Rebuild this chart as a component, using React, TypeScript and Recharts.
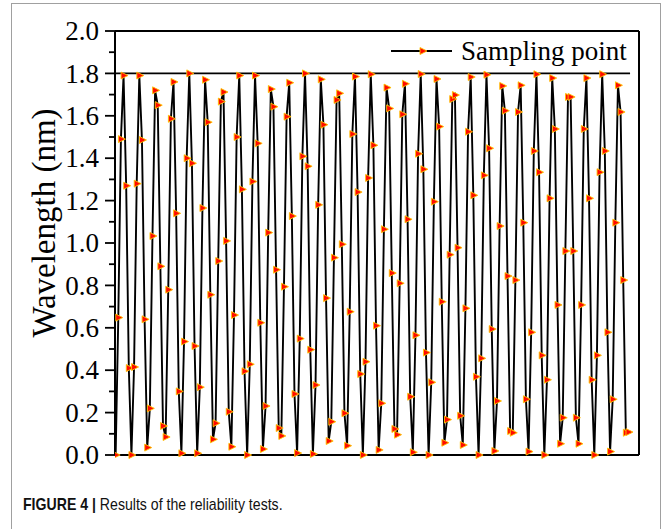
import React from 'react';
import { LineChart, Line, XAxis, YAxis, ReferenceLine, Customized } from 'recharts';

// Wavelength (nm) of each sampling point, in order
const wavelength: number[] = [
  0.0, 0.648, 1.49, 1.79, 1.27, 0.41, 0.0, 0.415, 1.28, 1.79,
  1.486, 0.64, 0.035, 0.22, 1.033, 1.72, 1.65, 0.89, 0.137, 0.085,
  0.78, 1.586, 1.76, 1.14, 0.3, 0.008, 0.535, 1.4, 1.8, 1.376,
  0.514, 0.008, 0.32, 1.165, 1.77, 1.57, 0.756, 0.074, 0.15, 0.915,
  1.667, 1.712, 1.01, 0.204, 0.039, 0.66, 1.5, 1.79, 1.253, 0.395,
  0.0, 0.428, 1.29, 1.79, 1.47, 0.624, 0.028, 0.231, 1.049, 1.726,
  1.643, 0.874, 0.127, 0.09, 0.794, 1.596, 1.756, 1.127, 0.288, 0.009,
  0.549, 1.409, 1.8, 1.362, 0.497, 0.005, 0.33, 1.18, 1.772, 1.558,
  0.74, 0.066, 0.157, 0.931, 1.675, 1.706, 0.994, 0.197, 0.044, 0.676,
  1.514, 1.785, 1.24, 0.382, 0.0, 0.44, 1.307, 1.796, 1.461, 0.61,
  0.024, 0.244, 1.065, 1.733, 1.635, 0.858, 0.123, 0.096, 0.81, 1.607,
  1.751, 1.112, 0.275, 0.013, 0.565, 1.421, 1.797, 1.348, 0.483, 0.0,
  0.343, 1.195, 1.774, 1.549, 0.723, 0.058, 0.167, 0.945, 1.679, 1.698,
  0.978, 0.185, 0.047, 0.692, 1.525, 1.783, 1.225, 0.369, 0.0, 0.456,
  1.319, 1.794, 1.447, 0.594, 0.019, 0.255, 1.08, 1.741, 1.624, 0.844,
  0.113, 0.105, 0.825, 1.618, 1.744, 1.096, 0.263, 0.016, 0.579, 1.434,
  1.796, 1.334, 0.47, 0.0, 0.355, 1.211, 1.778, 1.538, 0.708, 0.053,
  0.176, 0.962, 1.689, 1.689, 0.962, 0.176, 0.053, 0.708, 1.538, 1.778,
  1.211, 0.355, 0.0, 0.47, 1.334, 1.796, 1.434, 0.579, 0.016, 0.263,
  1.096, 1.744, 1.618, 0.825, 0.105, 0.108,
];

const yTicks: number[] = [
  0, 0.1, 0.2, 0.3, 0.4, 0.5, 0.6, 0.7, 0.8, 0.9, 1.0,
  1.1, 1.2, 1.3, 1.4, 1.5, 1.6, 1.7, 1.8, 1.9, 2.0,
];
const xTicks: number[] = [0];
const xDomain: [number, number] = [-0.25, 199];
const yDomain: [number, number] = [0, 2];
const legendLineLevel = 1.8;
const legendLineEnd = 195.6;
const seriesName = 'Sampling point';
const yLabel = 'Wavelength (nm)';

const data = wavelength.map((w, i) => ({ i, w }));

const SERIF = "'Liberation Serif', 'Times New Roman', serif";
const MARK_FILL = '#ff0a00';
const MARK_EDGE = '#ffc400';

const TriangleDot = (props: any) => {
  const { cx, cy, index } = props;
  if (cx == null || cy == null) return null;
  return (
    <polygon
      key={`d-${index}`}
      points={`${cx - 2.5},${cy - 3.5} ${cx - 2.5},${cy + 3.5} ${cx + 4.5},${cy}`}
      fill={MARK_FILL}
      stroke={MARK_EDGE}
      strokeWidth={0.9}
    />
  );
};

const YTick = (props: any) => {
  const { x, y, payload } = props;
  const v = payload.value as number;
  const major = Math.round(v * 10) % 2 === 0;
  return (
    <g>
      <line x1={x - (major ? 10 : 6)} x2={x} y1={y} y2={y} stroke="#000" strokeWidth={1.8} />
      {major && (
        <text x={x - 16} y={y} dy="0.34em" textAnchor="end" fontSize={27} fontFamily={SERIF} fill="#000">
          {v.toFixed(1)}
        </text>
      )}
    </g>
  );
};

const LegendBox = () => (
  <g>
    <line x1={391} x2={452} y1={51} y2={51} stroke="#000" strokeWidth={1.8} />
    <polygon points="420,47.5 420,54.5 427,51" fill={MARK_FILL} stroke={MARK_EDGE} strokeWidth={0.9} />
    <text x={461} y={60} fontSize={27} fontFamily={SERIF} fill="#000">
      {seriesName}
    </text>
  </g>
);

const YLabel = () => (
  <text
    transform="translate(55,223) rotate(-90)"
    textAnchor="middle"
    fontSize={33}
    fontFamily={SERIF}
    fill="#000"
  >
    {yLabel}
  </text>
);

export default function App() {
  return (
    <div
      style={{
        position: 'absolute',
        left: 0,
        top: 0,
        width: 664,
        height: 529,
        overflow: 'hidden',
        background: '#fff',
      }}
    >
      <div
        style={{
          position: 'absolute',
          left: 11,
          top: 3,
          width: 648,
          height: 560,
          border: '1px solid #a0a0a0',
        }}
      />
      <div style={{ position: 'absolute', left: 0, top: 0 }}>
        <LineChart
          width={664}
          height={529}
          data={data}
          margin={{ top: 31, right: 25, bottom: 54, left: 15 }}
        >
          <XAxis
            type="number"
            dataKey="i"
            domain={xDomain}
            ticks={xTicks}
            allowDataOverflow
            tick={false}
            tickSize={8}
            tickLine={{ stroke: '#000', strokeWidth: 1.8 }}
            axisLine={{ stroke: '#000', strokeWidth: 2 }}
            height={20}
          />
          <YAxis
            type="number"
            domain={yDomain}
            ticks={yTicks}
            interval={0}
            width={100}
            tickSize={0}
            tickMargin={0}
            tickLine={false}
            tick={<YTick />}
            axisLine={{ stroke: '#000', strokeWidth: 2 }}
          />
          <ReferenceLine y={2} stroke="#000" strokeWidth={2} />
          <ReferenceLine x={xDomain[1]} stroke="#000" strokeWidth={2} />
          <ReferenceLine
            segment={[
              { x: 0, y: legendLineLevel },
              { x: legendLineEnd, y: legendLineLevel },
            ]}
            stroke="#000"
            strokeWidth={1.8}
          />
          <Line
            type="linear"
            dataKey="w"
            stroke="#000"
            strokeWidth={1.9}
            dot={<TriangleDot />}
            activeDot={false}
            isAnimationActive={false}
          />
          <Customized component={LegendBox} />
          <Customized component={YLabel} />
        </LineChart>
      </div>
      <div
        style={{
          position: 'absolute',
          left: 23,
          top: 495,
          fontFamily: "'Liberation Sans', Arial, sans-serif",
          fontSize: 17,
          color: '#111',
          whiteSpace: 'nowrap',
          transform: 'scaleX(0.83)',
          transformOrigin: '0 0',
        }}
      >
        <span style={{ fontWeight: 700 }}>FIGURE 4 | </span>
        <span>Results of the reliability tests.</span>
      </div>
    </div>
  );
}
